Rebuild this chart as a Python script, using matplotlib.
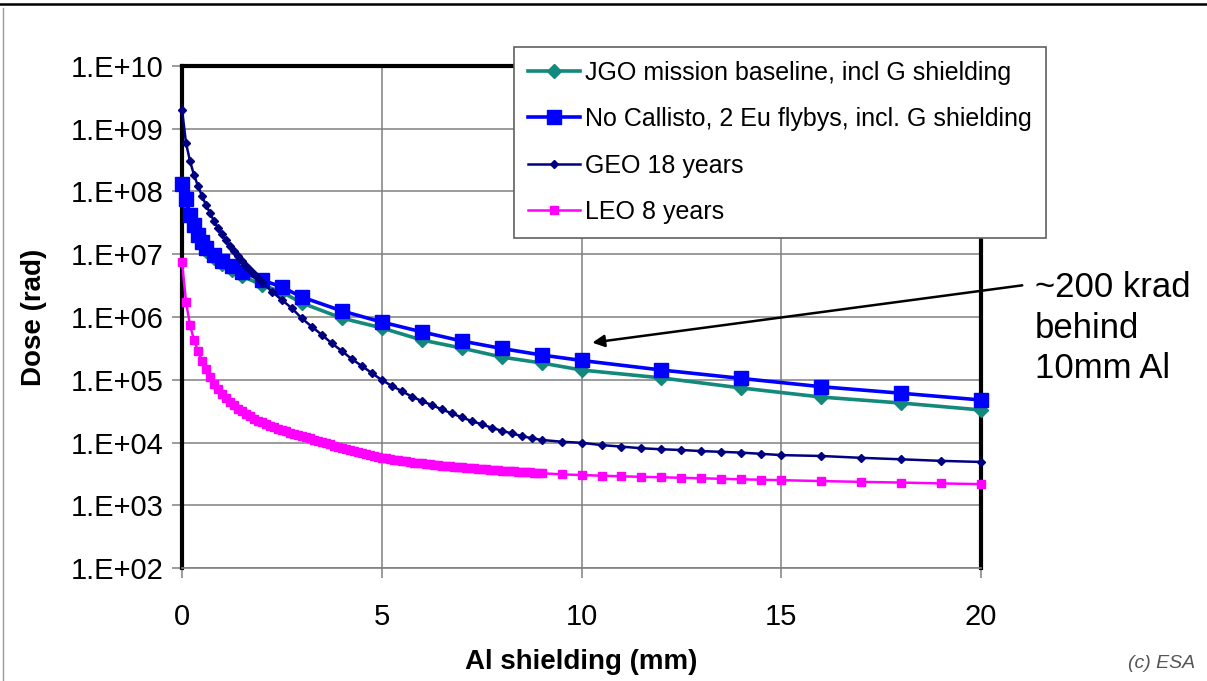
import math
import matplotlib
matplotlib.use('Agg')
import matplotlib.pyplot as plt
from matplotlib.lines import Line2D
from matplotlib.ticker import FixedLocator, FuncFormatter, NullLocator

plt.rcParams['font.family'] = ['Liberation Sans', 'DejaVu Sans']

# depth (mm) and dose (rad)
jgo_x = [0, 0.1, 0.2, 0.3, 0.4, 0.5, 0.6, 0.8, 1.0, 1.25, 1.5, 2, 2.5, 3, 4, 5, 6, 7, 8, 9, 10, 12, 14, 16, 18, 20]
jgo_dose = [1.18e8, 6.8e7, 3.93e7, 2.62e7, 1.82e7, 1.40e7, 1.13e7, 8.7e6, 7.0e6, 5.6e6, 4.5e6, 3.24e6, 2.5e6,
            1.67e6, 9.6e5, 6.7e5, 4.3e5, 3.2e5, 2.3e5, 1.85e5, 1.43e5, 1.07e5, 7.4e4, 5.3e4, 4.26e4, 3.3e4]

nocal_x = jgo_x
nocal_dose = [1.32e8, 7.6e7, 4.22e7, 2.93e7, 2.03e7, 1.57e7, 1.26e7, 9.7e6, 7.8e6, 6.5e6, 5.2e6, 3.9e6, 3.0e6,
              2.08e6, 1.25e6, 8.3e5, 5.8e5, 4.15e5, 3.15e5, 2.48e5, 2.03e5, 1.43e5, 1.05e5, 7.75e4, 6.1e4, 4.76e4]

geo_x = [0, 0.1, 0.2, 0.3, 0.4, 0.5, 0.6, 0.7, 0.8, 0.9, 1.0, 1.1, 1.2, 1.3, 1.4, 1.5, 1.6, 1.7, 1.8, 1.9, 2.0,
         2.25, 2.5, 2.75, 3.0, 3.25, 3.5, 3.75, 4.0, 4.25, 4.5, 4.75, 5.0, 5.25, 5.5, 5.75, 6.0, 6.25, 6.5, 6.75,
         7.0, 7.25, 7.5, 7.75, 8.0, 8.25, 8.5, 8.75, 9.0, 9.5, 10, 10.5, 11, 11.5, 12, 12.5, 13, 13.5, 14, 14.5,
         15, 16, 17, 18, 19, 20]
geo_dose = [2.0e9, 5.9e8, 3.06e8, 1.83e8, 1.22e8, 8.5e7, 6.1e7, 4.54e7, 3.39e7, 2.62e7, 2.10e7, 1.69e7, 1.35e7,
            1.13e7, 9.4e6, 7.8e6, 6.6e6, 5.6e6, 4.84e6, 4.19e6, 3.61e6,
            2.53e6, 1.87e6, 1.38e6, 9.5e5, 7.0e5, 5.2e5, 3.81e5, 2.87e5, 2.14e5, 1.66e5, 1.28e5, 9.9e4, 8.0e4,
            6.6e4, 5.4e4, 4.58e4, 3.96e4, 3.38e4, 2.92e4, 2.52e4, 2.20e4, 1.95e4, 1.72e4, 1.54e4, 1.40e4, 1.27e4,
            1.17e4, 1.10e4, 1.03e4, 9.9e3, 9.1e3, 8.6e3, 8.1e3, 7.8e3, 7.6e3, 7.3e3, 7.1e3, 6.9e3, 6.6e3,
            6.3e3, 6.1e3, 5.7e3, 5.4e3, 5.1e3, 4.9e3]

leo_x = [0.0, 0.1, 0.2, 0.3, 0.4, 0.5, 0.6, 0.7, 0.8, 0.9, 1.0, 1.1, 1.2, 1.3, 1.4, 1.5, 1.6, 1.7, 1.8, 1.9,
         2.0, 2.1, 2.2, 2.3, 2.4, 2.5, 2.6, 2.7, 2.8, 2.9, 3.0, 3.1, 3.2, 3.3, 3.4, 3.5, 3.6, 3.7, 3.8, 3.9,
         4.0, 4.1, 4.2, 4.3, 4.4, 4.5, 4.6, 4.7, 4.8, 4.9, 5.0, 5.1, 5.2, 5.3, 5.4, 5.5, 5.6, 5.7, 5.8, 5.9,
         6.0, 6.1, 6.2, 6.3, 6.4, 6.5, 6.6, 6.7, 6.8, 6.9, 7.0, 7.1, 7.2, 7.3, 7.4, 7.5, 7.6, 7.7, 7.8, 7.9,
         8.0, 8.1, 8.2, 8.3, 8.4, 8.5, 8.6, 8.7, 8.8, 8.9, 9.0, 9.5, 10, 10.5, 11, 11.5, 12, 12.5, 13, 13.5,
         14, 14.5, 15, 16, 17, 18, 19, 20]
leo_dose = [7.5e6, 1.73e6, 7.46e5, 4.30e5, 2.87e5, 1.99e5, 1.48e5, 1.11e5, 8.7e4, 7.1e4,
            5.9e4, 5.1e4, 4.42e4, 3.92e4, 3.48e4, 3.14e4, 2.85e4, 2.62e4, 2.41e4, 2.24e4,
            2.10e4, 1.97e4, 1.86e4, 1.76e4, 1.67e4, 1.59e4, 1.51e4, 1.44e4, 1.38e4, 1.32e4,
            1.27e4, 1.215e4, 1.163e4, 1.113e4, 1.065e4, 1.019e4, 9.75e3, 9.33e3, 8.93e3, 8.54e3,
            8.18e3, 7.85e3, 7.54e3, 7.27e3, 7.01e3, 6.75e3, 6.51e3, 6.30e3, 6.10e3, 5.92e3,
            5.75e3, 5.60e3, 5.46e3, 5.34e3, 5.22e3, 5.11e3, 5.00e3, 4.91e3, 4.80e3, 4.72e3,
            4.63e3, 4.56e3, 4.48e3, 4.41e3, 4.35e3, 4.29e3, 4.22e3, 4.18e3, 4.12e3, 4.07e3,
            4.01e3, 3.97e3, 3.92e3, 3.87e3, 3.82e3, 3.78e3, 3.74e3, 3.70e3, 3.66e3, 3.62e3,
            3.58e3, 3.54e3, 3.50e3, 3.48e3, 3.44e3, 3.40e3, 3.36e3, 3.34e3, 3.30e3, 3.28e3,
            3.24e3, 3.11e3, 3.03e3, 2.96e3, 2.89e3, 2.84e3, 2.79e3, 2.74e3, 2.69e3, 2.64e3,
            2.59e3, 2.55e3, 2.51e3, 2.43e3, 2.36e3, 2.30e3, 2.23e3, 2.17e3]

labels = ['JGO mission baseline, incl G shielding',
          'No Callisto, 2 Eu flybys, incl. G shielding',
          'GEO 18 years',
          'LEO 8 years']

fig = plt.figure(figsize=(12.07, 6.81), dpi=100)
ax = fig.add_axes([0.1508, 0.1659, 0.662, 0.7372])

ax.plot(jgo_x, jgo_dose, color='#12897b', lw=2.6, marker='D', ms=7, label=labels[0], clip_on=False, zorder=3)
ax.plot(nocal_x, nocal_dose, color='#0000ff', lw=2.6, marker='s', ms=9.5, label=labels[1], clip_on=False, zorder=4)
ax.plot(geo_x, geo_dose, color='#000080', lw=1.8, marker='D', ms=4.5, label=labels[2], clip_on=False, zorder=5)
ax.plot(leo_x, leo_dose, color='#ff00ff', lw=1.8, marker='s', ms=6, label=labels[3], clip_on=False, zorder=6)

ax.set_yscale('log')
ax.set_ylim(1e2, 1e10)
ax.set_xlim(0, 20)
ax.yaxis.set_major_locator(FixedLocator([10.0 ** k for k in range(2, 11)]))
ax.yaxis.set_minor_locator(NullLocator())
ax.yaxis.set_major_formatter(FuncFormatter(lambda v, p: '1.E+%02d' % round(math.log10(v))))
ax.set_xticks([0, 5, 10, 15, 20])

ax.grid(True, color='#808080', lw=1.1)
ax.set_axisbelow(True)
for s in ['top', 'left', 'right']:
    ax.spines[s].set_linewidth(3)
    ax.spines[s].set_color('black')
ax.spines['bottom'].set_linewidth(1.2)
ax.spines['bottom'].set_color('#808080')
ax.tick_params(axis='y', direction='out', length=7, width=1.1, color='#808080', labelsize=21, pad=6)
ax.tick_params(axis='x', direction='out', length=7, width=1.1, color='#808080', labelsize=21, pad=18)

ax.set_ylabel('Dose (rad)', fontsize=20, fontweight='bold', labelpad=17)
ax.set_xlabel('Al shielding (mm)', fontsize=20, fontweight='bold', labelpad=13)

leg = ax.legend(loc='upper left', bbox_to_anchor=(0.4259, 0.931), bbox_transform=fig.transFigure,
                fontsize=18, frameon=True, fancybox=False, edgecolor='#606060', framealpha=1,
                labelspacing=0.9, handlelength=2.1, handletextpad=0.2, borderpad=0.55, borderaxespad=0)
leg.get_frame().set_linewidth(1.2)
leg.set_zorder(10)

# arrow pointing at the 10 mm value
ax.annotate('', xy=(10.2, 3.85e5), xytext=(21.1, 3.24e6),
            arrowprops=dict(arrowstyle='-|>', color='black', lw=1.8, mutation_scale=18),
            annotation_clip=False)
fig.text(1035 / 1207, 1 - 328 / 681, '~200 krad\nbehind\n10mm Al', fontsize=25,
         va='center', ha='left', linespacing=1.3)

fig.text(1195 / 1207, 1 - 663 / 681, '(c) ESA', fontsize=14, style='italic', color='#555555',
         ha='right', va='center')

# slide frame lines
fig.add_artist(Line2D([0, 1], [1 - 4 / 681, 1 - 4 / 681], transform=fig.transFigure, color='black', lw=1.8))
fig.add_artist(Line2D([3 / 1207, 3 / 1207], [0, 1 - 8 / 681], transform=fig.transFigure, color='#999999', lw=1))

fig.savefig('out.png', dpi=100)
